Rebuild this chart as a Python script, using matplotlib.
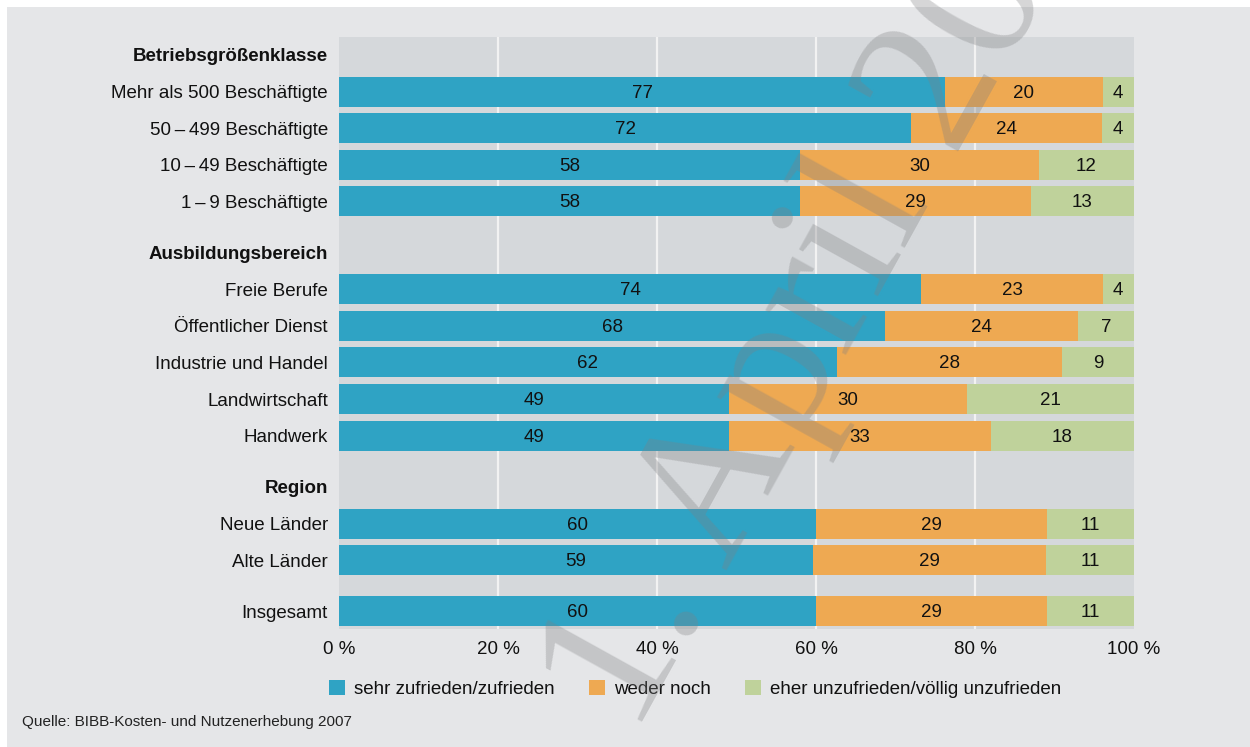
"""Zufriedenheit mit der Ausbildung nach Betriebsmerkmalen (BIBB 2007)."""
import matplotlib
matplotlib.use("Agg")
import matplotlib.pyplot as plt
import numpy as np
from matplotlib.patches import Patch, Rectangle

plt.rcParams["font.family"] = ["Liberation Sans", "DejaVu Sans"]

# --- data -----------------------------------------------------------------
headers = ["Betriebsgrößenklasse", "Ausbildungsbereich", "Region", None]
size_labels = ["Mehr als 500 Beschäftigte", "50\u2009–\u2009499 Beschäftigte",
               "10\u2009–\u200949 Beschäftigte", "1\u2009–\u20099 Beschäftigte"]
area_labels = ["Freie Berufe", "Öffentlicher Dienst", "Industrie und Handel",
               "Landwirtschaft", "Handwerk"]
region_labels = ["Neue Länder", "Alte Länder"]
total_labels = ["Insgesamt"]

sehr_zufrieden = [77, 72, 58, 58, 74, 68, 62, 49, 49, 60, 59, 60]
weder_noch = [20, 24, 30, 29, 23, 24, 28, 30, 33, 29, 29, 29]
eher_unzufrieden = [4, 4, 12, 13, 4, 7, 9, 21, 18, 11, 11, 11]

series_names = ["sehr zufrieden/zufrieden", "weder noch",
                "eher unzufrieden/völlig unzufrieden"]
colors = ["#2fa3c4", "#eea952", "#bfd29b"]
x_ticks = [0, 20, 40, 60, 80, 100]
source = "Quelle: BIBB-Kosten- und Nutzenerhebung 2007"
watermark = "1. April 2008"

# --- row layout -------------------------------------------------------------
groups = [size_labels, area_labels, region_labels, total_labels]
tick_pos, tick_txt, tick_bold, bar_pos = [], [], [], []
cur = -1.4
for head, labels in zip(headers, groups):
    cur += 1.4
    if head:
        tick_pos.append(cur); tick_txt.append(head); tick_bold.append(True)
        cur += 1
    for lab in labels:
        tick_pos.append(cur); tick_txt.append(lab); tick_bold.append(False)
        bar_pos.append(cur)
        cur += 1
    cur -= 1

vals = np.array([sehr_zufrieden, weder_noch, eher_unzufrieden], dtype=float)
shares = vals / vals.sum(axis=0) * 100  # bars always fill 100 %

# --- figure ----------------------------------------------------------------
W, H = 1250, 747
fig = plt.figure(figsize=(12.5, 7.47), dpi=100, facecolor="white")
fig.patches.append(Rectangle((7 / W, 0), 1, 1 - 7 / H, transform=fig.transFigure,
                             facecolor="#e5e6e8", edgecolor="none", zorder=-5))

ax = fig.add_axes([339 / W, 1 - 629 / H, (1134 - 339) / W, (629 - 37) / H])
ax.set_facecolor("#d5d8db")
for s in ax.spines.values():
    s.set_visible(False)

for t in x_ticks[1:-1]:
    ax.axvline(t, color="#f2f2f2", lw=1.6, zorder=1)

left = np.zeros(len(bar_pos))
for share, raw, col, name in zip(shares, vals, colors, series_names):
    bars = ax.barh(bar_pos, share, left=left, height=0.82, color=col,
                   label=name, zorder=2)
    # value in the middle of each segment, nudged slightly to sit like the print
    for y, l, w, v in zip(bar_pos, left, share, raw):
        ax.text(l + w / 2, y + 0.04, f"{v:.0f}", ha="center", va="center",
                fontsize=13.5, color="#111111", zorder=3)
    left += share

ax.set_xlim(0, 100)
ax.set_ylim(15.68, -0.49)
ax.set_xticks(x_ticks, [f"{t} %" for t in x_ticks])
ax.set_yticks(tick_pos, tick_txt)
for lab, b in zip(ax.get_yticklabels(), tick_bold):
    if b:
        lab.set_fontweight("bold")
ax.tick_params(axis="both", length=0, labelsize=13.5, colors="#111111")
ax.tick_params(axis="y", pad=8)
ax.tick_params(axis="x", pad=9)

handles = [Patch(facecolor=c, edgecolor="none", label=n)
           for c, n in zip(colors, series_names)]
fig.legend(handles=handles, loc="center left", bbox_to_anchor=(329 / W, 1 - 689 / H),
           ncol=3, frameon=False, fontsize=13.5, handlelength=0.85, handleheight=0.85,
           handletextpad=0.5, columnspacing=1.8, borderpad=0, borderaxespad=0,
           labelcolor="#111111")

fig.text(22 / W, 1 - 722 / H, source, fontsize=11, va="center", color="#222222")

fig.text(634 / W, 1 - 737 / H, watermark, family="Liberation Serif", fontsize=144,
         rotation=61, rotation_mode="anchor", ha="left", va="baseline",
         color="#7f8082", alpha=0.32, zorder=10)

fig.savefig("out.png", dpi=100, facecolor=fig.get_facecolor())
